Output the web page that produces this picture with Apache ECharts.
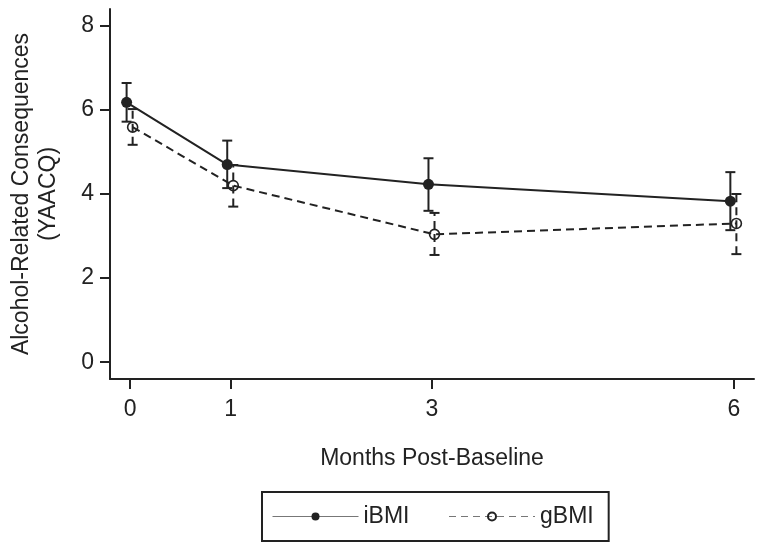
<!DOCTYPE html>
<html>
<head>
<meta charset="utf-8">
<script src="https://cdn.jsdelivr.net/npm/echarts@6/dist/echarts.min.js"></script>
<style>
  html, body { margin: 0; padding: 0; background: #fff; }
  #chart { width: 764px; height: 553px; }
</style>
</head>
<body>
<div id="chart"></div>
<script>
// ---- data ----
const months = [0, 1, 3, 6];
const xTicks = [0, 1, 3, 6];
const yTicks = [0, 2, 4, 6, 8];
const seriesNames = ['iBMI', 'gBMI'];
const ibmiMean = [6.18, 4.70, 4.23, 3.83];
const ibmiLow  = [5.72, 4.14, 3.60, 3.14];
const ibmiHigh = [6.64, 5.27, 4.85, 4.52];
const gbmiMean = [5.59, 4.20, 3.04, 3.30];
const gbmiLow  = [5.17, 3.70, 2.55, 2.57];
const gbmiHigh = [6.02, 4.69, 3.55, 4.00];

// ---- style ----
const INK = '#222';
const FONT = 'Liberation Sans, Arial, sans-serif';
const FS = 23;
const dodge = { iBMI: -0.035, gBMI: 0.025 };

function pts(mean, d) { return months.map((m, i) => [m + d, mean[i]]); }
function bars(lo, hi) { return months.map((m, i) => [m, lo[i], hi[i]]); }

function errRender(d, dash) {
  return function (params, api) {
    const x = api.value(0) + d;
    const a = api.coord([x, api.value(1)]);
    const b = api.coord([x, api.value(2)]);
    const hw = 5;
    const st = { stroke: INK, lineWidth: 2, fill: null };
    return {
      type: 'group',
      children: [
        { type: 'line', shape: { x1: a[0], y1: a[1], x2: b[0], y2: b[1] },
          style: Object.assign({}, st, dash ? { lineDash: [8, 5] } : {}) },
        { type: 'line', shape: { x1: a[0] - hw, y1: a[1], x2: a[0] + hw, y2: a[1] }, style: st },
        { type: 'line', shape: { x1: b[0] - hw, y1: b[1], x2: b[0] + hw, y2: b[1] }, style: st }
      ]
    };
  };
}

const chart = echarts.init(document.getElementById('chart'), null, { renderer: 'canvas' });
chart.setOption({
  animation: false,
  backgroundColor: '#fff',
  textStyle: { fontFamily: FONT, color: INK },
  grid: { left: 107.5, right: 10, top: 9, bottom: 174, containLabel: false },
  xAxis: {
    type: 'value', min: -0.2, max: 6.2,
    name: 'Months Post-Baseline', nameLocation: 'middle', nameGap: 68,
    nameTextStyle: { fontSize: FS, color: INK, fontFamily: FONT },
    axisLine: { show: true, onZero: false, lineStyle: { color: INK, width: 2 } },
    axisTick: { show: true, length: 10, lineStyle: { color: INK, width: 2 }, customValues: xTicks },
    axisLabel: { fontSize: FS, color: INK, fontFamily: FONT, margin: 19, customValues: xTicks },
    splitLine: { show: false }
  },
  yAxis: {
    type: 'value', min: -0.4, max: 8.4,
    name: 'Alcohol-Related Consequences\n(YAACQ)', nameLocation: 'middle', nameGap: 48,
    nameTextStyle: { fontSize: FS, color: INK, fontFamily: FONT, lineHeight: 27 },
    axisLine: { show: true, onZero: false, lineStyle: { color: INK, width: 2 } },
    axisTick: { show: true, length: 10, lineStyle: { color: INK, width: 2 }, customValues: yTicks },
    axisLabel: { fontSize: FS, color: INK, fontFamily: FONT, margin: 16, customValues: yTicks },
    splitLine: { show: false }
  },
  legend: {
    data: [
      { name: 'iBMI', lineStyle: { color: '#777', width: 1, type: 'solid' } },
      { name: 'gBMI', lineStyle: { color: '#777', width: 1, type: [7, 5] } }
    ],
    left: 262, top: 492,
    orient: 'horizontal',
    itemWidth: 86, itemHeight: 10, itemGap: 39,
    padding: [13, 15, 13, 10],
    borderColor: INK, borderWidth: 2, borderRadius: 0,
    textStyle: { fontSize: FS, color: INK, fontFamily: FONT }
  },
  series: [
    {
      name: seriesNames[0], type: 'line', data: pts(ibmiMean, dodge.iBMI),
      symbol: 'circle', symbolSize: 11, z: 3,
      lineStyle: { color: INK, width: 2 },
      itemStyle: { color: INK, borderColor: INK, borderWidth: 0 }
    },
    {
      name: seriesNames[1], type: 'line', data: pts(gbmiMean, dodge.gBMI),
      symbol: 'circle', symbolSize: 10, z: 3,
      lineStyle: { color: INK, width: 2, type: [8, 5] },
      itemStyle: { color: 'rgba(255,255,255,0)', borderColor: INK, borderWidth: 1.6 }
    },
    {
      name: 'iBMI-err', type: 'custom', renderItem: errRender(dodge.iBMI, false),
      data: bars(ibmiLow, ibmiHigh), encode: { x: 0, y: [1, 2] }, z: 4, silent: true
    },
    {
      name: 'gBMI-err', type: 'custom', renderItem: errRender(dodge.gBMI, true),
      data: bars(gbmiLow, gbmiHigh), encode: { x: 0, y: [1, 2] }, z: 4, silent: true
    }
  ]
});
</script>
</body>
</html>
